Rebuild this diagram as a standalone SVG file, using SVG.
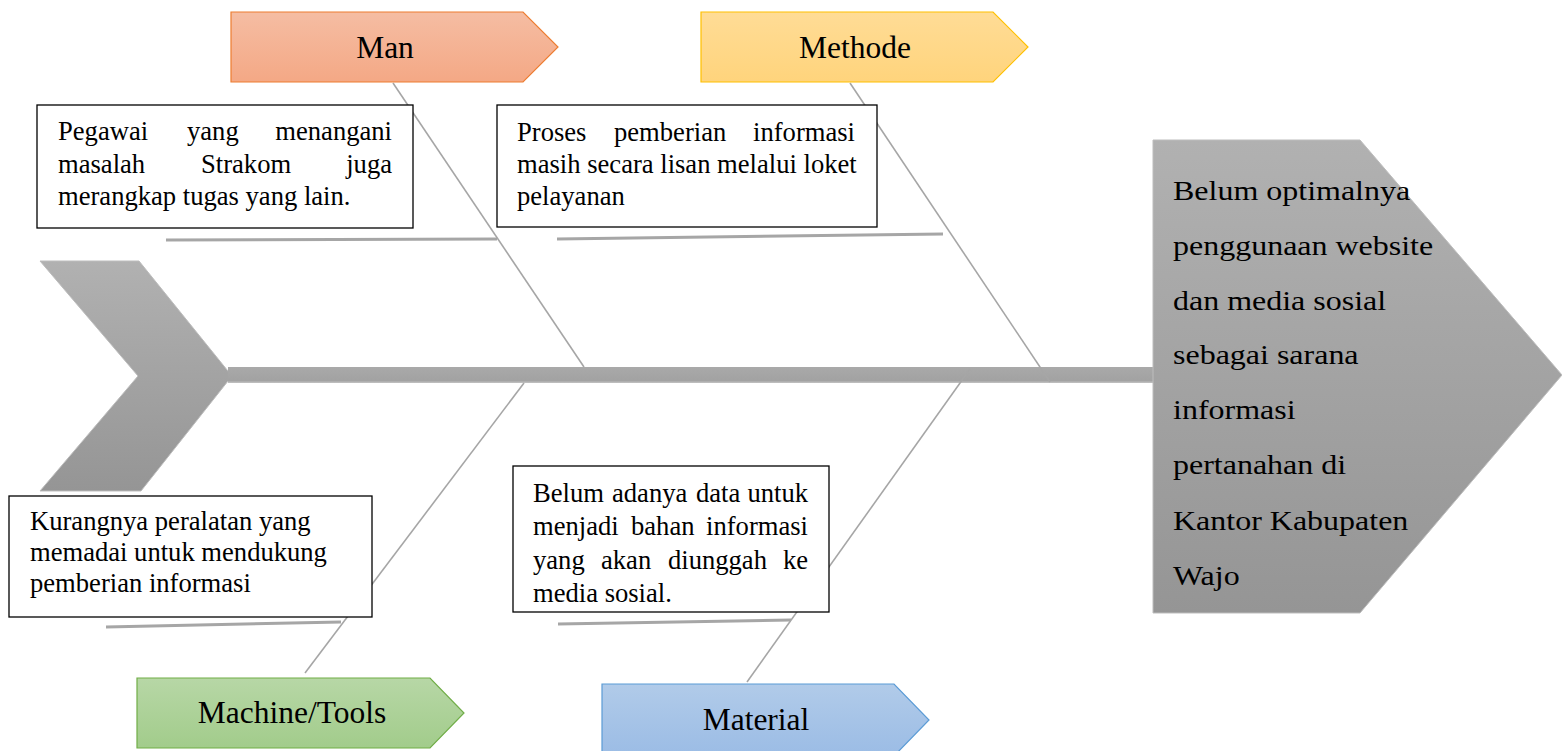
<svg xmlns="http://www.w3.org/2000/svg" width="1562" height="751" viewBox="0 0 1562 751">
<defs>
<linearGradient id="gGray" x1="0" y1="0" x2="0" y2="1"><stop offset="0" stop-color="#b1b1b1"/><stop offset="1" stop-color="#959595"/></linearGradient>
<linearGradient id="gSpine" x1="0" y1="0" x2="0" y2="1"><stop offset="0" stop-color="#a9a9a9"/><stop offset="0.85" stop-color="#a2a2a2"/><stop offset="1" stop-color="#c4c4c4"/></linearGradient>
<linearGradient id="gMan" x1="0" y1="0" x2="0" y2="1"><stop offset="0" stop-color="#f5bda3"/><stop offset="1" stop-color="#f4a885"/></linearGradient>
<linearGradient id="gMet" x1="0" y1="0" x2="0" y2="1"><stop offset="0" stop-color="#ffdc96"/><stop offset="1" stop-color="#ffd47c"/></linearGradient>
<linearGradient id="gMac" x1="0" y1="0" x2="0" y2="1"><stop offset="0" stop-color="#b7d7a6"/><stop offset="1" stop-color="#a2cc8b"/></linearGradient>
<linearGradient id="gMat" x1="0" y1="0" x2="0" y2="1"><stop offset="0" stop-color="#b1cbe9"/><stop offset="1" stop-color="#9bbce5"/></linearGradient>
</defs>
<style>
.bone{stroke:#a6a6a6;stroke-width:1.6;fill:none}
.under{stroke:#a6a6a6;stroke-width:3;fill:none}
.box{fill:#ffffff;stroke:#000000;stroke-width:1.3}
.t{font-family:"Liberation Serif","Times New Roman",serif;font-size:26.6px;fill:#000}
.lab{font-family:"Liberation Serif","Times New Roman",serif;font-size:31.5px;fill:#000;text-anchor:middle}
.head{font-family:"Liberation Serif","Times New Roman",serif;font-size:28px;fill:#000}
</style>

<g id="tail"><polygon points="40,261 139,261 232,376 141,491 40,491 138,376" fill="url(#gGray)" stroke="#bdbdbd" stroke-width="1"/></g>
<g id="spine"><rect x="228" y="367" width="926" height="16" fill="url(#gSpine)"/></g>

<g id="connectors">
<line class="bone" x1="393" y1="83" x2="584" y2="367"/>
<line class="bone" x1="850" y1="83" x2="1050" y2="382"/>
<line class="bone" x1="524" y1="383" x2="305" y2="673"/>
<line class="bone" x1="970" y1="369" x2="747" y2="682"/>
<line class="under" x1="166" y1="240" x2="497" y2="239"/>
<line class="under" x1="557" y1="239" x2="943" y2="234"/>
<line class="under" x1="106" y1="627" x2="341" y2="622"/>
<line class="under" x1="558" y1="624" x2="791" y2="620"/>
</g>

<g id="head">
<polygon points="1153,140 1360,140 1562,375 1360,613 1153,613" fill="url(#gGray)" stroke="#bdbdbd" stroke-width="1"/>
<g transform="translate(1173,0) scale(1.143,1)">
<text class="head" x="0" y="200">Belum optimalnya</text>
<text class="head" x="0" y="255">penggunaan website</text>
<text class="head" x="0" y="310">dan media sosial</text>
<text class="head" x="0" y="364">sebagai sarana</text>
<text class="head" x="0" y="419">informasi</text>
<text class="head" x="0" y="474">pertanahan di</text>
<text class="head" x="0" y="530">Kantor Kabupaten</text>
<text class="head" x="0" y="585">Wajo</text>
</g>
</g>

<g id="man">
<polygon points="231,12 523,12 558,47 523,82 231,82" fill="url(#gMan)" stroke="#ed7d31" stroke-width="1.2"/>
<text class="lab" x="385" y="58">Man</text>
</g>
<g id="methode">
<polygon points="701,12 993,12 1028,47 993,82 701,82" fill="url(#gMet)" stroke="#ffc000" stroke-width="1.2"/>
<text class="lab" x="855" y="58">Methode</text>
</g>
<g id="machine">
<polygon points="137,678 430,678 464,713 430,748 137,748" fill="url(#gMac)" stroke="#70ad47" stroke-width="1.2"/>
<text class="lab" x="292" y="723">Machine/Tools</text>
</g>
<g id="material">
<polygon points="602,684 894,684 929,720 894,756 602,756" fill="url(#gMat)" stroke="#5b9bd5" stroke-width="1.2"/>
<text class="lab" x="756" y="730">Material</text>
</g>

<g id="box-man">
<rect class="box" x="37" y="105" width="376" height="123"/>
<text class="t" x="58" y="140">Pegawai</text>
<text class="t" x="187" y="140">yang</text>
<text class="t" x="392" y="140" text-anchor="end">menangani</text>
<text class="t" x="58" y="173">masalah</text>
<text class="t" x="201" y="173">Strakom</text>
<text class="t" x="392" y="173" text-anchor="end">juga</text>
<text class="t" x="58" y="205">merangkap tugas yang lain.</text>
</g>

<g id="box-methode">
<rect class="box" x="497" y="105" width="380" height="122"/>
<text class="t" x="517" y="141">Proses</text>
<text class="t" x="614" y="141">pemberian</text>
<text class="t" x="855" y="141" text-anchor="end">informasi</text>
<text class="t" x="517" y="173">masih secara lisan melalui loket</text>
<text class="t" x="517" y="205">pelayanan</text>
</g>

<g id="box-machine">
<rect class="box" x="9" y="496" width="363" height="121"/>
<text class="t" x="30" y="530">Kurangnya peralatan yang</text>
<text class="t" x="30" y="561">memadai untuk mendukung</text>
<text class="t" x="30" y="592">pemberian informasi</text>
</g>

<g id="box-material">
<rect class="box" x="513" y="466" width="316" height="146"/>
<text class="t" x="533" y="502">Belum</text>
<text class="t" x="612" y="502">adanya</text>
<text class="t" x="696" y="502">data</text>
<text class="t" x="808" y="502" text-anchor="end">untuk</text>
<text class="t" x="533" y="535">menjadi</text>
<text class="t" x="631" y="535">bahan</text>
<text class="t" x="808" y="535" text-anchor="end">informasi</text>
<text class="t" x="533" y="569">yang</text>
<text class="t" x="601" y="569">akan</text>
<text class="t" x="668" y="569">diunggah</text>
<text class="t" x="808" y="569" text-anchor="end">ke</text>
<text class="t" x="533" y="602">media sosial.</text>
</g>
</svg>
